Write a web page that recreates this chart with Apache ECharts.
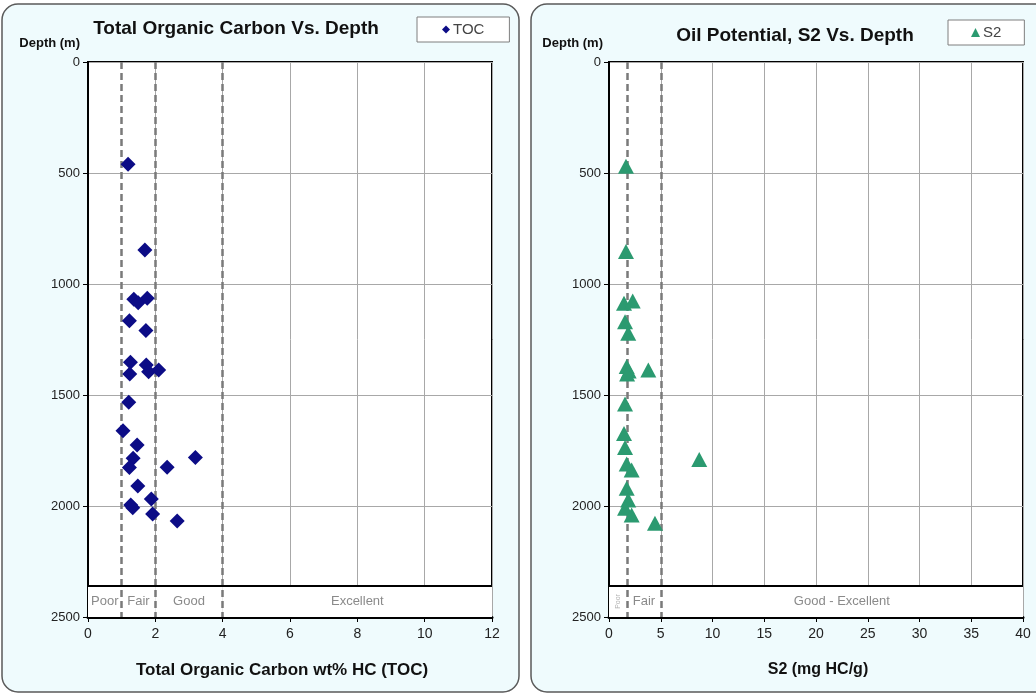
<!DOCTYPE html>
<html><head><meta charset="utf-8">
<script src="https://cdn.jsdelivr.net/npm/echarts@6/dist/echarts.min.js"></script>
<style>html,body{margin:0;padding:0;background:#fff}#c{width:1036px;height:694px}</style>
</head><body><div id="c"></div>
<script>
// ---- Data ----
const tocDepth = [461, 847, 1069, 1084, 1064, 1166, 1210, 1352, 1365, 1395, 1387, 1405, 1533, 1661, 1725, 1785, 1781, 1827, 1826, 1910, 1968, 1995, 2008, 2036, 2068];
const tocValue = [1.19, 1.69, 1.36, 1.49, 1.76, 1.23, 1.72, 1.26, 1.73, 1.80, 2.10, 1.24, 1.21, 1.04, 1.46, 1.34, 3.19, 1.23, 2.35, 1.48, 1.88, 1.27, 1.33, 1.92, 2.65];
const s2Depth = [470, 854, 1087, 1077, 1170, 1222, 1372, 1392, 1405, 1387, 1541, 1673, 1736, 1811, 1838, 1790, 1920, 1973, 2010, 2041, 2078];
const s2Value = [1.64, 1.64, 1.45, 2.29, 1.55, 1.86, 1.71, 1.90, 1.75, 3.80, 1.55, 1.45, 1.55, 1.71, 2.19, 8.72, 1.71, 1.86, 1.55, 2.19, 4.44];
const tocClassBounds = [0, 1, 2, 4, 12];
const tocClassLabels = ['Poor', 'Fair', 'Good', 'Excellent'];
const s2ClassBounds = [0, 1.75, 5, 40];
const s2ClassLabels = ['Poor', 'Fair', 'Good - Excellent'];
const depthTicks = [0, 500, 1000, 1500, 2000, 2500];
const tocTicks = [0, 2, 4, 6, 8, 10, 12];
const s2Ticks = [0, 5, 10, 15, 20, 25, 30, 35, 40];
const classBandTop = 2360;

const FONT = '"Liberation Sans", Arial, sans-serif';
const chart = echarts.init(document.getElementById('c'));

function pairs(xs, ys) { return xs.map((v, i) => [v, ys[i]]); }

function xAxisDef(idx, ticks, name, nameSize, namePad) {
  return {
    type: 'value', gridIndex: idx, min: ticks[0], max: ticks[ticks.length - 1],
    interval: ticks[1] - ticks[0],
    axisLine: { show: true, onZero: false, lineStyle: { color: '#000', width: 3 } },
    axisTick: { show: true, length: 5, lineStyle: { color: '#000', width: 1 } },
    axisLabel: { fontSize: 14, color: '#222', margin: 10, fontFamily: FONT },
    splitLine: { show: true, lineStyle: { color: '#a8a8a8', width: 1 } },
    name: name, nameLocation: 'middle', nameGap: 45,
    nameTextStyle: { fontSize: nameSize, fontWeight: 'bold', color: '#111', fontFamily: FONT, padding: namePad }
  };
}
function yAxisDef(idx, padRight) {
  return {
    type: 'value', gridIndex: idx, inverse: true,
    min: depthTicks[0], max: depthTicks[depthTicks.length - 1], interval: depthTicks[1] - depthTicks[0],
    axisLine: { show: true, lineStyle: { color: '#000', width: 2 } },
    axisTick: { show: true, length: 5, lineStyle: { color: '#000', width: 1 } },
    axisLabel: { fontSize: 13, color: '#222', margin: 8, fontFamily: FONT, formatter: v => String(v) },
    splitLine: { show: true, lineStyle: { color: '#a8a8a8', width: 1 } },
    name: 'Depth (m)', nameLocation: 'start', nameGap: 12,
    nameTextStyle: { fontSize: 13, fontWeight: 'bold', color: '#111', align: 'right', verticalAlign: 'bottom', padding: [0, padRight, 0, 0], fontFamily: FONT }
  };
}
function bandAreas(bounds, labels, smallFirst) {
  return labels.map((lab, i) => {
    const small = smallFirst && i === 0;
    return [
      { name: lab, xAxis: bounds[i], yAxis: classBandTop,
        label: small ? { fontSize: 7, rotate: 90, color: '#b0b0b0' } : {} },
      { xAxis: bounds[i + 1], yAxis: depthTicks[depthTicks.length - 1] }
    ];
  });
}
function markLines(bounds) {
  const d = bounds.slice(1, -1).map(v => ({ xAxis: v }));
  d.push({ yAxis: classBandTop, lineStyle: { type: 'solid', color: '#000', width: 2 } });
  return {
    silent: true, symbol: 'none', z: 1.5, label: { show: false },
    lineStyle: { type: [7, 4], color: '#7a7a7a', width: 2.5 },
    data: d
  };
}

const option = {
  animation: false,
  textStyle: { fontFamily: FONT },
  graphic: [
    { type: 'rect', z: -100, silent: true, shape: { x: 2, y: 4, width: 517, height: 688, r: 16 },
      style: { fill: '#effbfd', stroke: '#5a5a5a', lineWidth: 1.5 } },
    { type: 'rect', z: -100, silent: true, shape: { x: 531, y: 4, width: 520, height: 688, r: 16 },
      style: { fill: '#effbfd', stroke: '#5a5a5a', lineWidth: 1.5 } }
  ],
  title: [
    { text: 'Total Organic Carbon Vs. Depth', left: 231, textAlign: 'center', top: 14,
      textStyle: { fontSize: 19, fontWeight: 'bold', color: '#111', fontFamily: FONT } },
    { text: 'Oil Potential, S2 Vs. Depth', left: 790, textAlign: 'center', top: 21,
      textStyle: { fontSize: 19, fontWeight: 'bold', color: '#111', fontFamily: FONT } }
  ],
  legend: [
    { data: ['TOC'], left: 417, top: 17, orient: 'horizontal', padding: [5, 25], itemWidth: 8, itemHeight: 8, itemGap: 3,
      backgroundColor: '#fff', borderColor: '#7f7f7f', borderWidth: 1,
      textStyle: { fontSize: 15, color: '#444', padding: [0, 0, 0, -2] } },
    { data: ['S2'], left: 948, top: 20, orient: 'horizontal', padding: [5, 23], itemWidth: 9, itemHeight: 9, itemGap: 3,
      backgroundColor: '#fff', borderColor: '#7f7f7f', borderWidth: 1,
      textStyle: { fontSize: 15, color: '#444', padding: [0, 0, 0, -2] } }
  ],
  grid: [
    { left: 88, top: 62, width: 404, height: 555, show: true, backgroundColor: '#fff', borderColor: '#000', borderWidth: 2 },
    { left: 609, top: 62, width: 414, height: 555, show: true, backgroundColor: '#fff', borderColor: '#000', borderWidth: 2 }
  ],
  xAxis: [
    xAxisDef(0, tocTicks, 'Total Organic Carbon wt% HC (TOC)', 17, [0, 16, 0, 0]),
    xAxisDef(1, s2Ticks, 'S2 (mg HC/g)', 16, [0, 0, 0, 4])
  ],
  yAxis: [yAxisDef(0, 8), yAxisDef(1, 6)],
  series: [
    { name: 'TOC', type: 'scatter', xAxisIndex: 0, yAxisIndex: 0, z: 3,
      data: pairs(tocValue, tocDepth), symbol: 'diamond', symbolSize: 15,
      itemStyle: { color: '#0c0c86', opacity: 1 },
      markArea: { silent: true, z: 1, itemStyle: { color: '#fff', borderWidth: 0 },
        label: { show: true, position: 'inside', color: '#8a8a8a', fontSize: 13, fontFamily: FONT },
        data: bandAreas(tocClassBounds, tocClassLabels, false) },
      markLine: markLines(tocClassBounds) },
    { name: 'S2', type: 'scatter', xAxisIndex: 1, yAxisIndex: 1, z: 3,
      data: pairs(s2Value, s2Depth), symbol: 'triangle', symbolSize: [16, 15],
      itemStyle: { color: '#2b9a70', opacity: 1 },
      markArea: { silent: true, z: 1, itemStyle: { color: '#fff', borderWidth: 0 },
        label: { show: true, position: 'inside', color: '#8a8a8a', fontSize: 13, fontFamily: FONT },
        data: bandAreas(s2ClassBounds, s2ClassLabels, true) },
      markLine: markLines(s2ClassBounds) }
  ]
};
chart.setOption(option);
</script></body></html>
